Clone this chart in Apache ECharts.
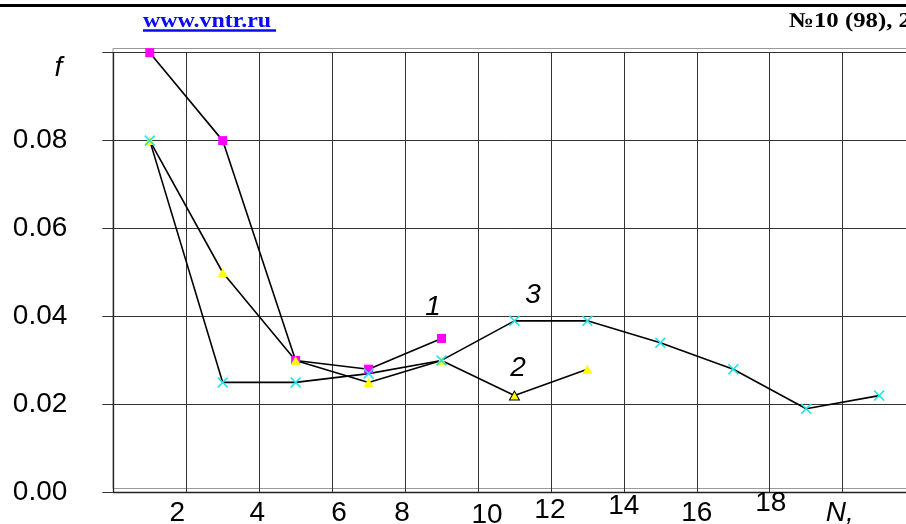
<!DOCTYPE html>
<html>
<head>
<meta charset="utf-8">
<script src="https://cdn.jsdelivr.net/npm/echarts@6/dist/echarts.min.js"></script>
<style>
  html, body { margin: 0; padding: 0; background: #fff; }
  #chart { width: 906px; height: 524px; }
</style>
</head>
<body>
<div id="chart"></div>
<script>
// N values on the horizontal axis and the three f(N) curves
const nValues = [1, 3, 5, 7, 9, 11, 13, 15, 17, 19, 21];
const curve1 = [0.100, 0.080, 0.030, 0.028, 0.035];
const curve2 = [0.080, 0.050, 0.030, 0.025, 0.030, 0.022, 0.028];
const curve3 = [0.080, 0.025, 0.025, 0.027, 0.030, 0.039, 0.039, 0.034, 0.028, 0.019, 0.022];
const curveNames = ['1', '2', '3'];
const xTickLabels = ['', '2', '4', '6', '8', '10', '12', '14', '16', '18', 'N,', ''];
const yTickLabels = ['0.00', '0.02', '0.04', '0.06', '0.08', 'f'];

const SANS = '"Liberation Sans", Arial, sans-serif';
const SERIF = '"Liberation Serif", "Times New Roman", serif';

const GRID = { left: 113.3, top: 52.7, right: -9.6, bottom: 31.7, containLabel: false, outerBoundsMode: 'none' };

// hand-set nudges of the x tick labels [dx, dy]
const xLabelNudge = [[0,0],[-9,0],[-2,0],[7,0],[-3,0],[9,2],[-1,-3],[0,-7],[0,0],[1,-10],[-3,0],[0,0]];
const xRich = {};
xLabelNudge.forEach(function (d, i) {
  const dx = d[0], dy = d[1];
  xRich['t' + i] = {
    fontSize: 28, fontFamily: SANS, color: '#000',
    fontStyle: xTickLabels[i] === 'N,' ? 'italic' : 'normal',
    padding: [10 + dy, dx < 0 ? -2 * dx : 0, 0, dx > 0 ? 2 * dx : 0]
  };
});

function pairs(values) {
  return values.map(function (v, i) { return [nValues[i], v]; });
}

const xMark = 'path://M0,1 L1,0 L5,4 L9,0 L10,1 L6,5 L10,9 L9,10 L5,6 L1,10 L0,9 L4,5 Z';

function curveTag(text, coord) {
  return {
    symbol: 'circle', symbolSize: 1,
    itemStyle: { color: 'rgba(0,0,0,0)' },
    label: { show: true, position: 'inside', formatter: text, fontSize: 28, fontStyle: 'italic', fontFamily: SANS, color: '#000' },
    data: [{ coord: coord }]
  };
}

const lineStyle = { color: '#000', width: 1.6 };

const chart = echarts.init(document.getElementById('chart'), null, { renderer: 'canvas' });
chart.setOption({
  animation: false,
  backgroundColor: '#fff',
  grid: GRID,
  xAxis: {
    type: 'value', min: 0, max: 22, interval: 2,
    axisLine: { show: true, onZero: false, lineStyle: { color: '#222', width: 1.3 } },
    axisTick: { show: false },
    splitLine: { show: true, lineStyle: { color: '#333', width: 1 } },
    axisLabel: {
      margin: -3,
      showMinLabel: false, showMaxLabel: false, hideOverlap: false,
      formatter: function (v) {
        const i = Math.round(v / 2);
        return xTickLabels[i] ? '{t' + i + '|' + xTickLabels[i] + '}' : '';
      },
      rich: xRich
    }
  },
  yAxis: {
    type: 'value', min: 0, max: 0.1, interval: 0.02,
    axisLine: { show: true, lineStyle: { color: '#222', width: 1.3 } },
    axisTick: { show: true, inside: false, length: 11, lineStyle: { color: '#333', width: 1 } },
    splitLine: { show: true, lineStyle: { color: '#333', width: 1 } },
    axisLabel: {
      margin: 46,
      formatter: function (v) {
        const s = yTickLabels[Math.round(v / 0.02)];
        return s === 'f' ? '{f|f}' : '{n|' + s + '}';
      },
      rich: {
        n: { fontSize: 28, fontFamily: SANS, color: '#000' },
        f: { fontSize: 28, fontFamily: SANS, fontStyle: 'italic', color: '#000', padding: [32, 5, 0, 0] }
      }
    }
  },
  series: [
    {
      name: curveNames[0], type: 'line', data: pairs(curve1),
      symbol: 'rect', symbolSize: 9,
      itemStyle: { color: '#ff00ff' }, lineStyle: lineStyle,
      markPoint: curveTag(curveNames[0], [8.77, 0.0421])
    },
    {
      name: curveNames[1], type: 'line',
      data: pairs(curve2).map(function (p, i) {
        return i === 5 ? { value: p, itemStyle: { borderColor: '#000', borderWidth: 1 } } : p;
      }),
      symbol: 'triangle', symbolSize: [10, 9],
      itemStyle: { color: '#ffff00' }, lineStyle: lineStyle,
      markPoint: curveTag(curveNames[1], [11.1, 0.0283])
    },
    {
      name: curveNames[2], type: 'line', data: pairs(curve3),
      symbol: xMark, symbolSize: 11,
      itemStyle: { color: '#1ee3e8' }, lineStyle: lineStyle,
      markPoint: curveTag(curveNames[2], [11.51, 0.0449])
    }
  ],
  graphic: [
    // page running-header rule
    { type: 'rect', z: 10, shape: { x: 0, y: 4, width: 906, height: 3 }, style: { fill: '#000' } },
    {
      type: 'text', z: 10, x: 143, y: 11, scaleX: 1.14,
      style: { text: 'www.vntr.ru', x: 0, y: 0, font: 'bold 21px ' + SERIF, fill: '#0a0af5', textVerticalAlign: 'top' }
    },
    { type: 'rect', z: 10, shape: { x: 143, y: 29.3, width: 133, height: 2.4 }, style: { fill: '#0a0af5' } },
    {
      type: 'text', z: 10, x: 789, y: 11, scaleX: 1.18,
      style: { text: '№10 (98), 2', x: 0, y: 0, font: 'bold 21px ' + SERIF, fill: '#000', textVerticalAlign: 'top' }
    },
    // light frame round the plot
    { type: 'rect', z: -1, shape: { x: 113, y: 48.5, width: 900, height: 440 }, style: { fill: 'none', stroke: '#9a9a9a', lineWidth: 1 } }
  ]
});
</script>
</body>
</html>
